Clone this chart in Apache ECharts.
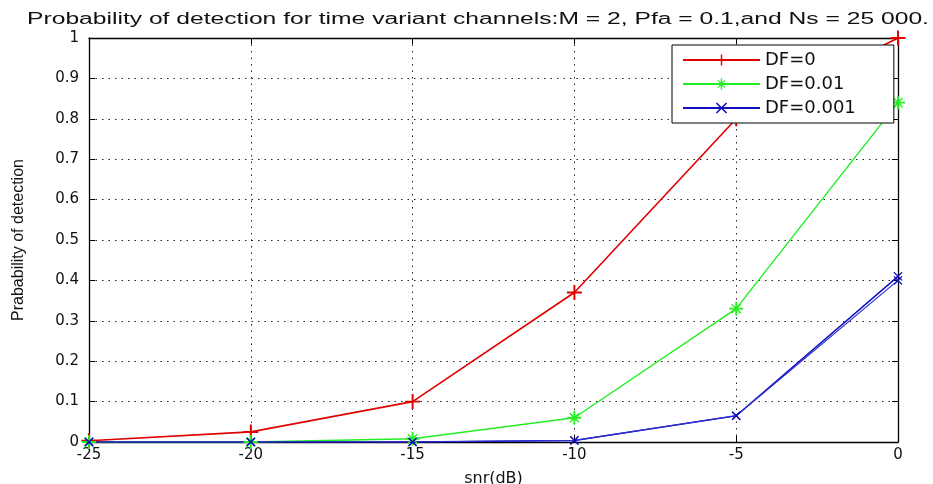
<!DOCTYPE html>
<html>
<head>
<meta charset="utf-8">
<script src="https://cdn.jsdelivr.net/npm/echarts@6/dist/echarts.min.js"></script>
<style>html,body{margin:0;padding:0;background:#fff}#c{width:933px;height:484px}</style>
</head>
<body>
<div id="c"></div>
<script>
var snr = [-25, -20, -15, -10, -5, 0];
var df0 = [0.003, 0.025, 0.10, 0.37, 0.80, 1.00];
var df001 = [0.0, 0.0, 0.008, 0.06, 0.33, 0.84];
var df0001 = [0.0, 0.0, 0.0, 0.004, 0.065, 0.41];
var df0001b = [0.0, 0.0, 0.0, 0.004, 0.065, 0.40];
var titleText = 'Probability of detection for time variant channels:M = 2, Pfa = 0.1,and Ns = 25 000.';

var PLUS = 'path://M-1,-0.13L1,-0.13L1,0.13L-1,0.13ZM-0.13,-1L0.13,-1L0.13,1L-0.13,1Z';
var XS = 'path://M-1,-0.8L-0.8,-1L1,0.8L0.8,1ZM0.8,-1L1,-0.8L-0.8,1L-1,0.8Z';
var STAR = 'path://M-1,-0.13L1,-0.13L1,0.13L-1,0.13ZM-0.13,-1L0.13,-1L0.13,1L-0.13,1Z' +
  'M-0.72,-0.58L-0.58,-0.72L0.72,0.58L0.58,0.72ZM0.58,-0.72L0.72,-0.58L-0.58,0.72L-0.72,0.58Z';

function pairs(ys) { return snr.map(function (x, i) { return [x, ys[i]]; }); }

var FONT = '"Liberation Sans", Arial, sans-serif';
var WFONT = '"DejaVu Sans", sans-serif';
var chart = echarts.init(document.getElementById('c'), null, { renderer: 'canvas' });
var gridLine = { show: true, lineStyle: { color: '#222', type: [1.5, 5], width: 1 } };
chart.setOption({
  animation: false,
  backgroundColor: '#fff',
  graphic: [{
    type: 'text', x: 478, y: 20, scaleX: 1.54,
    style: { x: 0, y: 0, text: titleText, fill: '#111', font: '16px ' + FONT, textAlign: 'center', textVerticalAlign: 'middle' }
  }],
  grid: { left: 89, right: 35, top: 38, bottom: 42, show: false, outerBoundsMode: 'none', containLabel: false },
  legend: {
    left: 672, top: 45,
    orient: 'vertical',
    backgroundColor: '#fff', borderColor: '#000', borderWidth: 1,
    padding: [6, 38, 6, 10], itemGap: 6,
    itemWidth: 77, itemHeight: 14,
    textStyle: { fontFamily: WFONT, fontSize: 18, color: '#111' },
    data: ['DF=0', 'DF=0.01', 'DF=0.001']
  },
  xAxis: [{
    type: 'value', min: -25, max: 0, interval: 5,
    name: 'snr(dB)', nameLocation: 'middle', nameGap: 29,
    nameTextStyle: { fontFamily: WFONT, fontSize: 16, color: '#111' },
    axisLine: { show: true, onZero: false, lineStyle: { color: '#000', width: 1.3 } },
    axisTick: { show: true, inside: true, length: 6, lineStyle: { color: '#000' } },
    axisLabel: { fontFamily: WFONT, fontSize: 15, color: '#111', margin: 6 },
    splitLine: gridLine
  }, {
    type: 'value', min: -25, max: 0, interval: 5, position: 'top',
    axisLine: { show: true, onZero: false, lineStyle: { color: '#000', width: 1.3 } },
    axisTick: { show: true, inside: true, length: 6, lineStyle: { color: '#000' } },
    axisLabel: { show: false }, splitLine: { show: false }
  }],
  yAxis: [{
    type: 'value', min: 0, max: 1, interval: 0.1,
    name: 'Prabability of detection', nameLocation: 'middle', nameGap: 62, nameRotate: 90,
    nameTextStyle: { fontFamily: FONT, fontSize: 16, color: '#111' },
    axisLine: { show: true, onZero: false, lineStyle: { color: '#000', width: 1.3 } },
    axisTick: { show: true, inside: true, length: 6, lineStyle: { color: '#000' } },
    axisLabel: { fontFamily: WFONT, fontSize: 15, color: '#111', margin: 10,
      formatter: function (v) { return String(Math.round(v * 10) / 10); } },
    splitLine: gridLine
  }, {
    type: 'value', min: 0, max: 1, interval: 0.1, position: 'right',
    axisLine: { show: true, onZero: false, lineStyle: { color: '#000', width: 1.3 } },
    axisTick: { show: true, inside: true, length: 6, lineStyle: { color: '#000' } },
    axisLabel: { show: false }, splitLine: { show: false }
  }],
  series: [{
    name: 'DF=0', type: 'line', data: pairs(df0), color: '#e00000',
    symbol: PLUS, symbolSize: 15, showAllSymbol: true,
    lineStyle: { width: 1.6, color: '#e00000' }, itemStyle: { color: '#e00000' }
  }, {
    name: 'DF=0.01', type: 'line', data: pairs(df001), color: '#22ee22',
    symbol: STAR, symbolSize: 14,
    lineStyle: { width: 1.4, color: '#22ee22' }, itemStyle: { color: '#22ee22' }
  }, {
    name: 'DF=0.001', type: 'line', data: pairs(df0001), color: '#1010c0',
    symbol: XS, symbolSize: 9,
    lineStyle: { width: 1.5, color: '#1010c0' }, itemStyle: { color: '#1010c0' }
  }, {
    name: 'DF=0.001', type: 'line', data: pairs(df0001b), color: '#1010c0',
    symbol: XS, symbolSize: 9,
    lineStyle: { width: 1.2, color: '#3030d0' }, itemStyle: { color: '#1010c0' }
  }]
});
</script>
</body>
</html>
